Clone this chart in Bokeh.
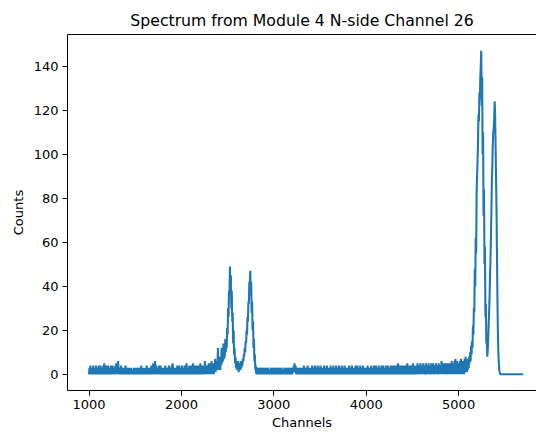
from bokeh.plotting import figure
from bokeh.models import FixedTicker, LinearAxis
from bokeh.embed import file_html
from bokeh.resources import INLINE

title_text = "Spectrum from Module 4 N-side Channel 26"
x_label = "Channels"
y_label = "Counts"
x_ticks = [1000, 2000, 3000, 4000, 5000]
y_ticks = [0, 20, 40, 60, 80, 100, 120, 140]

channel_start = 1000
channel_step = 5
counts = [
    0, 3, 0, 4, 0, 2, 1, 3, 0, 4, 0, 3, 1, 2, 0, 4, 0, 3, 0, 2,        # 1000
    0, 4, 0, 3, 1, 4, 0, 2, 0, 3, 0, 4, 1, 5, 0, 3, 0, 4, 0, 3,        # 1100
    0, 4, 1, 3, 0, 2, 0, 4, 1, 3, 0, 4, 0, 3, 0, 2, 1, 4, 0, 5,        # 1200
    0, 4, 0, 6, 0, 3, 1, 2, 0, 4, 0, 3, 1, 3, 0, 2, 0, 3, 0, 4,        # 1300
    0, 2, 0, 3, 1, 2, 0, 3, 0, 2, 0, 3, 0, 2, 1, 2, 0, 3, 0, 2,        # 1400
    0, 3, 0, 2, 1, 3, 0, 3, 0, 2, 0, 3, 1, 4, 0, 3, 0, 2, 0, 3,        # 1500
    0, 3, 0, 2, 1, 4, 0, 3, 0, 3, 0, 2, 1, 3, 0, 4, 0, 3, 1, 5,        # 1600
    0, 3, 0, 6, 0, 4, 1, 3, 0, 3, 0, 4, 1, 3, 0, 4, 0, 2, 0, 3,        # 1700
    0, 3, 1, 2, 0, 4, 0, 3, 1, 3, 0, 2, 0, 4, 0, 3, 1, 3, 0, 4,        # 1800
    0, 5, 0, 3, 1, 3, 0, 2, 0, 3, 0, 4, 1, 3, 0, 4, 0, 3, 0, 2,        # 1900
    0, 4, 1, 3, 0, 3, 0, 4, 0, 2, 0, 5, 1, 3, 0, 3, 0, 4, 1, 3,        # 2000
    0, 4, 0, 3, 1, 5, 0, 3, 0, 4, 0, 3, 1, 4, 0, 2, 0, 4, 1, 3,        # 2100
    0, 5, 1, 4, 0, 3, 0, 4, 1, 3, 0, 6, 0, 4, 1, 3, 0, 4, 0, 5,        # 2200
    1, 4, 0, 5, 1, 6, 0, 4, 1, 5, 0, 4, 2, 7, 1, 5, 2, 6, 3, 12,       # 2300
    2, 6, 3, 8, 2, 7, 4, 12, 5, 9, 6, 14, 7, 11, 8, 16, 10, 14, 12, 21,  # 2400
    18, 30, 26, 38, 36, 49, 40, 45, 30, 38, 24, 28, 14, 20, 9, 12, 5, 8, 3, 6,  # 2500
    2, 5, 3, 6, 1, 4, 3, 5, 2, 6, 3, 5, 4, 7, 6, 9, 8, 12, 10, 15,     # 2600
    14, 20, 18, 26, 24, 33, 32, 42, 40, 47, 36, 42, 28, 33, 20, 24, 12, 16, 6, 9,  # 2700
    2, 4, 0, 3, 1, 2, 0, 3, 0, 2, 1, 3, 0, 2, 0, 3, 1, 2, 0, 3,        # 2800
    0, 2, 1, 3, 0, 2, 0, 3, 1, 2, 0, 2, 0, 3, 0, 2, 1, 3, 0, 2,        # 2900
    0, 3, 0, 2, 1, 3, 0, 2, 0, 3, 1, 2, 0, 3, 0, 2, 0, 3, 1, 2,        # 3000
    0, 2, 0, 3, 1, 2, 0, 3, 0, 2, 1, 3, 0, 2, 0, 3, 1, 2, 0, 3,        # 3100
    0, 2, 1, 4, 2, 5, 1, 4, 0, 3, 1, 2, 0, 3, 0, 2, 1, 3, 0, 2,        # 3200
    0, 3, 1, 2, 0, 4, 0, 3, 1, 3, 0, 2, 0, 4, 0, 3, 1, 3, 0, 2,        # 3300
    0, 3, 0, 4, 1, 3, 0, 2, 0, 4, 1, 3, 0, 3, 0, 4, 0, 2, 1, 3,        # 3400
    0, 4, 0, 3, 1, 3, 0, 2, 0, 4, 1, 3, 0, 3, 0, 4, 1, 3, 0, 2,        # 3500
    0, 3, 1, 4, 0, 3, 0, 2, 1, 4, 0, 3, 0, 3, 1, 4, 0, 3, 0, 3,        # 3600
    0, 4, 0, 3, 1, 2, 0, 4, 0, 3, 1, 3, 0, 4, 0, 3, 1, 2, 0, 3,        # 3700
    0, 3, 1, 4, 0, 2, 0, 3, 1, 4, 0, 3, 0, 2, 1, 3, 0, 4, 0, 3,        # 3800
    0, 4, 0, 3, 1, 3, 0, 4, 0, 2, 1, 3, 0, 4, 0, 3, 1, 3, 0, 2,        # 3900
    0, 3, 1, 4, 0, 3, 0, 2, 1, 3, 0, 4, 0, 3, 1, 3, 0, 4, 0, 3,        # 4000
    0, 4, 0, 3, 1, 3, 0, 4, 0, 3, 1, 2, 0, 4, 0, 3, 1, 4, 0, 3,        # 4100
    0, 3, 1, 4, 0, 3, 0, 4, 1, 3, 0, 3, 0, 4, 1, 3, 0, 4, 0, 3,        # 4200
    0, 4, 0, 3, 1, 4, 0, 3, 0, 5, 1, 3, 0, 4, 0, 3, 1, 4, 0, 3,        # 4300
    0, 4, 1, 3, 0, 4, 0, 3, 1, 5, 0, 3, 0, 4, 1, 3, 0, 4, 0, 3,        # 4400
    0, 5, 1, 4, 0, 3, 0, 4, 1, 3, 0, 5, 0, 4, 1, 3, 0, 5, 0, 4,        # 4500
    0, 4, 1, 5, 0, 3, 0, 4, 1, 5, 0, 3, 0, 4, 1, 5, 0, 4, 0, 3,        # 4600
    0, 5, 1, 4, 0, 5, 0, 3, 1, 4, 0, 5, 0, 4, 1, 3, 0, 5, 0, 4,        # 4700
    0, 4, 1, 6, 0, 4, 0, 5, 1, 4, 0, 5, 0, 3, 1, 5, 0, 4, 0, 5,        # 4800
    0, 4, 1, 5, 0, 6, 0, 4, 1, 5, 0, 6, 0, 7, 1, 5, 0, 6, 0, 5,        # 4900
    0, 5, 1, 6, 0, 7, 1, 5, 0, 6, 1, 5, 0, 7, 1, 8, 2, 6, 1, 7,        # 5000
    2, 6, 3, 8, 5, 10, 6, 13, 9, 15, 12, 22, 18, 30, 28, 48, 40, 62, 55, 82,  # 5100
    90, 97, 105, 118, 115, 128, 125, 135, 140, 147, 122, 135, 100, 110, 72, 84, 50, 58, 26, 32,  # 5200
    14, 18, 8, 11, 16, 22, 28, 35, 45, 52, 62, 75, 88, 95, 104, 110, 112, 116, 124, 118,  # 5300
    105, 90, 76, 55, 35, 20, 10, 5, 2, 1, 0, 0, 0, 0, 0, 0, 0, 0, 0, 0,  # 5400
    0, 0, 0, 0, 0, 0, 0, 0, 0, 0, 0, 0, 0, 0, 0, 0, 0, 0, 0, 0,        # 5500
    0, 0, 0, 0, 0, 0, 0, 0, 0, 0, 0, 0, 0, 0, 0, 0, 0, 0, 0, 0,        # 5600
    0,                                                                 # 5700
]
channels = [channel_start + channel_step * i for i in range(len(counts))]

FONT = "DejaVu Sans"

p = figure(width=536, height=435, output_backend="svg", toolbar_location=None,
           x_range=(767, 5843), y_range=(-7.35, 154.35),
           min_border_left=67, min_border_right=0, min_border_bottom=45,
           min_border_top=34)
p.line(channels, counts, line_color="#1f77b4", line_width=2.08)

p.title.text = title_text
p.title.align = "center"
p.title.text_font = FONT
p.title.text_font_size = "15.7px"
p.title.text_font_style = "normal"
p.title.text_color = "black"

p.grid.visible = False
p.outline_line_color = None
p.background_fill_color = "white"
p.border_fill_color = "white"

for ax in (p.xaxis[0], p.yaxis[0]):
    ax.major_tick_out = 5
    ax.major_tick_in = 0
    ax.minor_tick_line_color = None
    ax.major_tick_line_color = "black"
    ax.axis_line_color = "black"
    ax.axis_line_width = 1
    ax.major_label_text_font = FONT
    ax.major_label_text_font_size = "13px"
    ax.major_label_text_color = "black"
    ax.axis_label_text_font = FONT
    ax.axis_label_text_font_size = "13px"
    ax.axis_label_text_font_style = "normal"
    ax.axis_label_text_color = "black"
    ax.major_label_standoff = 4

p.xaxis[0].ticker = FixedTicker(ticks=x_ticks)
p.yaxis[0].ticker = FixedTicker(ticks=y_ticks)
p.xaxis[0].axis_label = x_label
p.yaxis[0].axis_label = y_label
p.xaxis[0].axis_label_standoff = 3
p.yaxis[0].axis_label_standoff = 5

top = LinearAxis(ticker=FixedTicker(ticks=[]), major_label_text_font_size="0px",
                 major_tick_line_color=None, minor_tick_line_color=None,
                 axis_line_color="black", major_label_standoff=0,
                 axis_label_standoff=0)
p.add_layout(top, "above")

open("out.html", "w").write(file_html(p, INLINE))
